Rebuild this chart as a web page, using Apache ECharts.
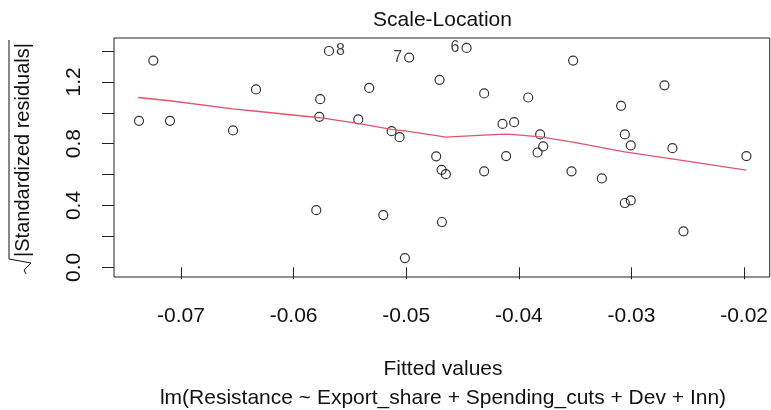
<!DOCTYPE html>
<html>
<head>
<meta charset="utf-8">
<script src="https://cdn.jsdelivr.net/npm/echarts@6/dist/echarts.min.js"></script>
<style>
  html, body { margin: 0; padding: 0; background: #fff; }
  #chart { width: 771px; height: 410px; }
</style>
</head>
<body>
<div id="chart"></div>
<script>
// Fitted values of the model and sqrt(|standardized residuals|)
var fitted = [
  -0.07373, -0.07246, -0.07098, -0.06538, -0.06334, -0.05799, -0.05772, -0.05764,
  -0.05686, -0.05426, -0.05329, -0.05204, -0.05130, -0.05059, -0.05012, -0.04974,
  -0.04734, -0.04704, -0.04686, -0.04683, -0.04648, -0.04464, -0.04308, -0.04308,
  -0.04145, -0.04113, -0.04042, -0.03917, -0.03834, -0.03811, -0.03784, -0.03532,
  -0.03518, -0.03263, -0.03092, -0.03059, -0.03059, -0.03006, -0.03006, -0.02707,
  -0.02636, -0.02538, -0.01979
];
var sqrtStdResid = [
  0.948, 1.338, 0.948, 0.886, 1.151, 0.370, 0.974, 1.088,
  1.400, 0.957, 1.161, 0.338, 0.881, 0.842, 0.060, 1.357,
  0.718, 1.213, 0.631, 0.293, 0.603, 1.420, 1.125, 0.621,
  0.928, 0.720, 0.939, 1.099, 0.743, 0.860, 0.782, 0.621,
  1.338, 0.575, 1.045, 0.860, 0.416, 0.789, 0.433, 1.178,
  0.771, 0.233, 0.720
];

// Observations flagged with their case numbers
var flaggedIndex = [8, 15, 21];
var flaggedText = ['8', '7', '6'];
var flaggedSide = ['right', 'left', 'left'];

// Smoother through the points
var smoothX = [
  -0.0738, -0.0710, -0.0654, -0.0633, -0.0577, -0.0543, -0.0513, -0.0501, -0.0473,
  -0.0465, -0.0431, -0.0412, -0.0404, -0.0381, -0.0352, -0.0306, -0.0264, -0.0198
];
var smoothY = [
  1.099, 1.078, 1.025, 1.010, 0.968, 0.931, 0.892, 0.883, 0.852,
  0.842, 0.855, 0.862, 0.858, 0.844, 0.810, 0.747, 0.702, 0.629
];

var xTicks = [-0.07, -0.06, -0.05, -0.04, -0.03, -0.02];
var yTicks = [0, 0.2, 0.4, 0.6, 0.8, 1.0, 1.2, 1.4];
var yLabels = [0, 0.4, 0.8, 1.2];

var mainTitle = 'Scale-Location';
var xTitle = 'Fitted values';
var subTitle = 'lm(Resistance ~ Export_share + Spending_cuts + Dev + Inn)';
var yTitle = '|Standardized residuals|';

var FONT = 'Liberation Sans, Arial, sans-serif';
var INK = '#111';

var points = fitted.map(function (x, i) {
  var item = { value: [x, sqrtStdResid[i]] };
  var k = flaggedIndex.indexOf(i);
  if (k >= 0) {
    item.label = {
      show: true,
      formatter: flaggedText[k],
      position: flaggedSide[k],
      distance: 2,
      fontSize: 16,
      fontFamily: FONT,
      color: INK
    };
  }
  return item;
});

var smooth = smoothX.map(function (x, i) { return [x, smoothY[i]]; });

var chart = echarts.init(document.getElementById('chart'), null, { renderer: 'canvas' });

chart.setOption({
  animation: false,
  backgroundColor: '#fff',
  grid: {
    left: 114, right: 1, top: 38, bottom: 133,
    show: true, borderColor: '#222', borderWidth: 1, backgroundColor: 'transparent'
  },
  xAxis: {
    type: 'value',
    min: -0.07595, max: -0.01772,
    axisLine: { show: false },
    splitLine: { show: false },
    axisTick: {
      show: true, inside: false, length: 12,
      customValues: xTicks,
      lineStyle: { color: '#222', width: 1 }
    },
    axisLabel: {
      customValues: xTicks,
      margin: 29,
      fontSize: 21,
      fontFamily: FONT,
      color: INK,
      hideOverlap: false,
      formatter: function (v) { return v.toFixed(2); }
    }
  },
  yAxis: {
    type: 'value',
    min: -0.0628, max: 1.484,
    axisLine: { show: false },
    splitLine: { show: false },
    axisTick: {
      show: true, inside: false, length: 12,
      customValues: yTicks,
      lineStyle: { color: '#222', width: 1 }
    },
    axisLabel: {
      customValues: yLabels,
      rotate: 90,
      margin: 29,
      fontSize: 21,
      fontFamily: FONT,
      color: INK,
      hideOverlap: false,
      formatter: function (v) { return v.toFixed(1); }
    }
  },
  series: [
    {
      type: 'scatter',
      data: points,
      symbol: 'circle',
      symbolSize: 9,
      itemStyle: { color: 'rgba(255,255,255,0)', borderColor: '#000', borderWidth: 1.2 },
      z: 2
    },
    {
      type: 'line',
      data: smooth,
      showSymbol: false,
      lineStyle: { color: '#DF536B', width: 1.3 },
      z: 3
    }
  ],
  graphic: [
    {
      type: 'text', x: 442.5, y: 20,
      style: { text: mainTitle, font: '21px ' + FONT, fill: INK, textAlign: 'center', textVerticalAlign: 'middle' }
    },
    {
      type: 'text', x: 443, y: 369,
      style: { text: xTitle, font: '21px ' + FONT, fill: INK, textAlign: 'center', textVerticalAlign: 'middle' }
    },
    {
      type: 'text', x: 443, y: 398,
      style: { text: subTitle, font: '21px ' + FONT, fill: INK, textAlign: 'center', textVerticalAlign: 'middle' }
    },
    {
      type: 'text', x: 23, y: 150, rotation: Math.PI / 2,
      style: { text: yTitle, font: '20px ' + FONT, fill: INK, textAlign: 'center', textVerticalAlign: 'middle' }
    },
    {
      // radical sign with its overbar, drawn along the rotated label
      type: 'polyline',
      shape: { points: [[9, 40], [9, 259], [31, 263], [24, 270], [26, 274]] },
      style: { stroke: INK, lineWidth: 1, fill: null }
    }
  ]
});
</script>
</body>
</html>
